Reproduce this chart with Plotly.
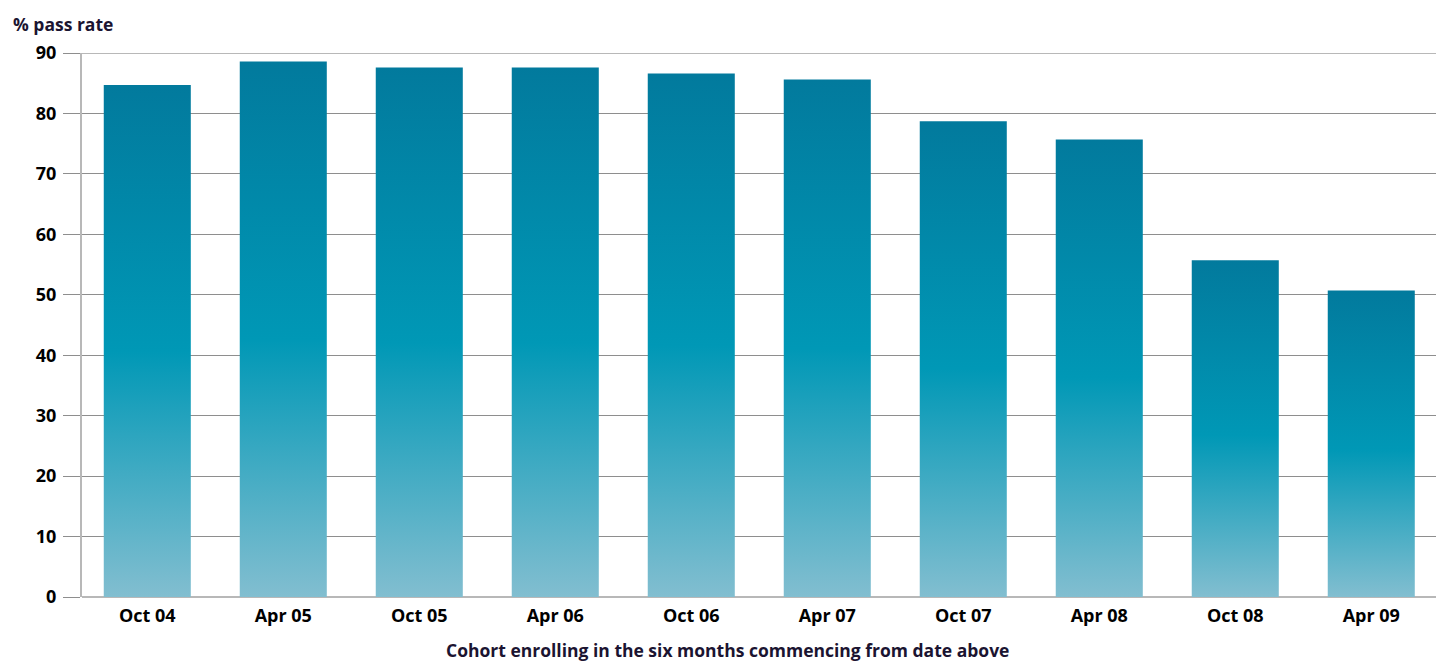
import plotly.graph_objects as go

# Cohort pass rates (%), by six-month enrolment period
cohorts = ["Oct 04", "Apr 05", "Oct 05", "Apr 06", "Oct 06",
           "Apr 07", "Oct 07", "Apr 08", "Oct 08", "Apr 09"]
pass_rate = [84.7, 88.6, 87.6, 87.6, 86.6, 85.6, 78.7, 75.7, 55.7, 50.7]
y_ticks = [0, 10, 20, 30, 40, 50, 60, 70, 80, 90]

BAR_WIDTH = 0.64
LIGHT = "#82bed0"
BRIGHT = "#0098b6"
DARK = "#027a9d"
FONT = "Open Sans"

fig = go.Figure()

# Each bar is a filled rectangle with its own vertical gradient
for i, (label, val) in enumerate(zip(cohorts, pass_rate)):
    x0, x1 = i - BAR_WIDTH / 2, i + BAR_WIDTH / 2
    fig.add_trace(go.Scatter(
        x=[x0, x1, x1, x0, x0],
        y=[0, 0, val, val, 0],
        mode="lines",
        line=dict(width=0),
        fill="toself",
        fillgradient=dict(
            type="vertical",
            start=0,
            stop=val,
            colorscale=[[0, LIGHT], [0.48, BRIGHT], [1, DARK]],
        ),
        name=label,
        hoveron="fills",
        text=f"{label}: {val}%",
        hoverinfo="text",
        showlegend=False,
    ))

# Top border line at 90
fig.add_shape(type="line", xref="paper", yref="y", x0=0, x1=1, y0=90, y1=90,
              line=dict(color="#b8b8b8", width=2), layer="below")

fig.update_layout(
    width=1436, height=664,
    margin=dict(l=82, r=0, t=53, b=67),
    plot_bgcolor="white", paper_bgcolor="white",
    font=dict(family=FONT, size=18, color="#000000"),
    xaxis=dict(
        range=[-0.48, 9.476],
        tickmode="array",
        tickvals=list(range(len(cohorts))),
        ticktext=cohorts,
        tickfont=dict(family=FONT, size=18, color="#000000", weight="bold"),
        showgrid=False, zeroline=False, showline=False,
        ticks="", ticklabelstandoff=6,
    ),
    yaxis=dict(
        range=[0, 90],
        tickmode="array",
        tickvals=y_ticks,
        tickfont=dict(family=FONT, size=18, color="#000000", weight="bold"),
        showgrid=True, gridcolor="#8e8e8e", gridwidth=1,
        zeroline=True, zerolinecolor="#b8b8b8", zerolinewidth=2,
        showline=True, linecolor="#b8b8b8", linewidth=2,
        ticks="outside", ticklen=17, tickcolor="#8e8e8e", tickwidth=1,
        ticklabelstandoff=3,
    ),
    annotations=[
        dict(text="% pass rate", xref="paper", yref="paper", x=0, y=1,
             xshift=-71, yshift=29, xanchor="left", yanchor="middle",
             showarrow=False,
             font=dict(family=FONT, size=17.5, color="#1b1431", weight="bold")),
        dict(text="Cohort enrolling in the six months commencing from date above",
             xref="paper", yref="paper", x=0.5, y=0, xshift=-32,
             yshift=-53, xanchor="center", yanchor="middle", showarrow=False,
             font=dict(family=FONT, size=17.5, color="#1b1431", weight="bold")),
    ],
)

fig.write_html("out.html")
